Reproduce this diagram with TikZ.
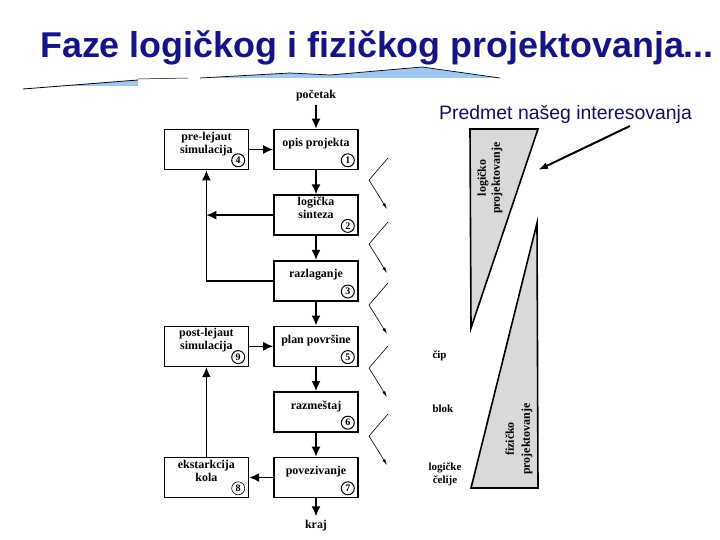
\documentclass[tikz,border=0pt]{standalone}
\usepackage{fontspec}
\setmainfont{Liberation Serif}
\setsansfont{Liberation Sans}
\usetikzlibrary{positioning,arrows.meta}
\definecolor{naslov}{RGB}{20,20,135}
\definecolor{predm}{RGB}{15,15,90}
\definecolor{traka}{RGB}{160,200,240}
\definecolor{siva}{RGB}{217,217,217}
% tekst u bloku, malo podignut
\newcommand{\bx}[1]{\raisebox{2.5bp}[0pt][0pt]{\begin{tabular}{@{}c@{}}#1\end{tabular}}}

\begin{document}
\begin{tikzpicture}[x=1bp,y=-1bp,node distance=24bp and 24bp,
	blok/.style={draw,line width=1.6bp,minimum width=84bp,minimum height=40bp,inner sep=0pt,font=\fontsize{12}{13}\selectfont\bfseries},
	br/.style={draw,circle,line width=1bp,inner sep=0pt,minimum size=13bp,font=\fontsize{10}{10}\selectfont\bfseries},
	tok/.style={-{Latex[length=10bp,width=9bp]},line width=1.6bp},
	cik/.style={-{Latex[length=6bp,width=3bp]},line width=0.6bp},
	oz/.style={font=\fontsize{11}{13}\selectfont\bfseries}]
	\useasboundingbox (0,0) rectangle (720,540);

	% naslov
	\node[anchor=base west,inner sep=0pt,text=naslov,font=\sffamily\bfseries\fontsize{36}{36}\selectfont] (naslov) at (40,58)
		{Faze logičkog i fizičkog projektovanja...};
	\fill[traka] (60,86) -- (138,80) -- (138,86) -- cycle;
	\fill[traka] (200,78) -- (290,73) -- (330,75) -- (422,67) -- (500,78) -- cycle;
	\draw[line width=0.8bp] (23,89) -- (138,80);
	\draw[line width=0.5bp] (138,79) -- (188,78);
	\draw[line width=0.7bp] (200,78) -- (290,73) -- (330,75) -- (422,67) -- (500,78);

	% tok projektovanja
	\node[blok] (opis) at (316,149.5) {\bx{opis projekta}};
	\node[blok] (sint) [below=of opis] {\bx{logička\\sinteza}};
	\node[blok] (razl) [below=of sint] {\bx{razlaganje}};
	\node[blok] (plan) [below=of razl] {\bx{plan površine}};
	\node[blok] (razm) [below=of plan] {\bx{razmeštaj}};
	\node[blok] (povez) [below=of razm] {\bx{povezivanje}};
	\node[blok] (pre) [left=of opis] {\bx{pre-lejaut\\simulacija}};
	\node[blok] (post) [left=of plan] {\bx{post-lejaut\\simulacija}};
	\node[blok] (ekst) [left=of povez] {\bx{ekstarkcija\\kola}};
	\node[oz,font=\fontsize{12}{13}\selectfont\bfseries] (poc) [above=of opis] {početak};
	\node[oz,font=\fontsize{12}{13}\selectfont\bfseries] (kraj) [below=18bp of povez] {kraj};

	\node[br] at ([shift={(-11,-10)}]opis.south east) {1};
	\node[br] at ([shift={(-11,-10)}]sint.south east) {2};
	\node[br] at ([shift={(-11,-10)}]razl.south east) {3};
	\node[br] at ([shift={(-11,-10)}]pre.south east) {4};
	\node[br] at ([shift={(-11,-10)}]plan.south east) {5};
	\node[br] at ([shift={(-11,-10)}]razm.south east) {6};
	\node[br] at ([shift={(-11,-10)}]povez.south east) {7};
	\node[br,line width=0.6bp] at ([shift={(-11,-10)}]ekst.south east) {8};
	\node[br] at ([shift={(-11,-10)}]post.south east) {9};

	\draw[tok] (poc) -- (opis);
	\draw[tok] (opis) -- (sint);
	\draw[tok] (sint) -- (razl);
	\draw[tok] (razl) -- (plan);
	\draw[tok] (plan) -- (razm);
	\draw[tok] (razm) -- (povez);
	\draw[tok] (povez) -- (kraj);
	\draw[tok] (pre) -- (opis);
	\draw[tok] (post) -- (plan);
	\draw[tok] (povez) -- (ekst);
	\draw[tok] (ekst) -- (post);
	\draw[tok] (sint.west) -- (sint.west -| pre.south);
	\draw[tok] (razl.west) -| (pre.south);

	% cik-cak strelice
	\foreach \y in {158,222,283,346,414}
		\draw[cik] (388,\y) -- (369,\y+22) -- (387,\y+51);

	% trouglovi
	\filldraw[fill=siva,line width=1.6bp,line join=miter] (470,129) -- (538,129) -- (471,328) -- cycle;
	\filldraw[fill=siva,line width=1.6bp,line join=miter] (537,223) -- (538,488) -- (471,488) -- cycle;
	\node[rotate=90,align=center,font=\fontsize{12}{14}\selectfont\bfseries] (logt) at (490,178) {logičko\\projektovanje};
	\node[rotate=90,align=center,font=\fontsize{12}{16}\selectfont\bfseries] (fizt) at (519,439) {fizičko\\projektovanje};

	\node[oz,anchor=west] (cip) at (429,356) {čip};
	\node[oz,anchor=west] (blk) at (429,409) {blok};
	\node[oz,align=center] (cel) at (445,474) {logičke\\čelije};

	% predmet interesovanja
	\node[anchor=west,inner sep=0pt,text=predm,font=\sffamily\fontsize{19.5}{20}\selectfont] (predmet) at (439,114) {Predmet našeg interesovanja};
	\coordinate (strp) at (630,126);
	\coordinate (strk) at (538,170);
	\draw[line width=2bp,-{Latex[length=10bp,width=7bp]}] (strp) -- (strk);
\end{tikzpicture}
\end{document}
